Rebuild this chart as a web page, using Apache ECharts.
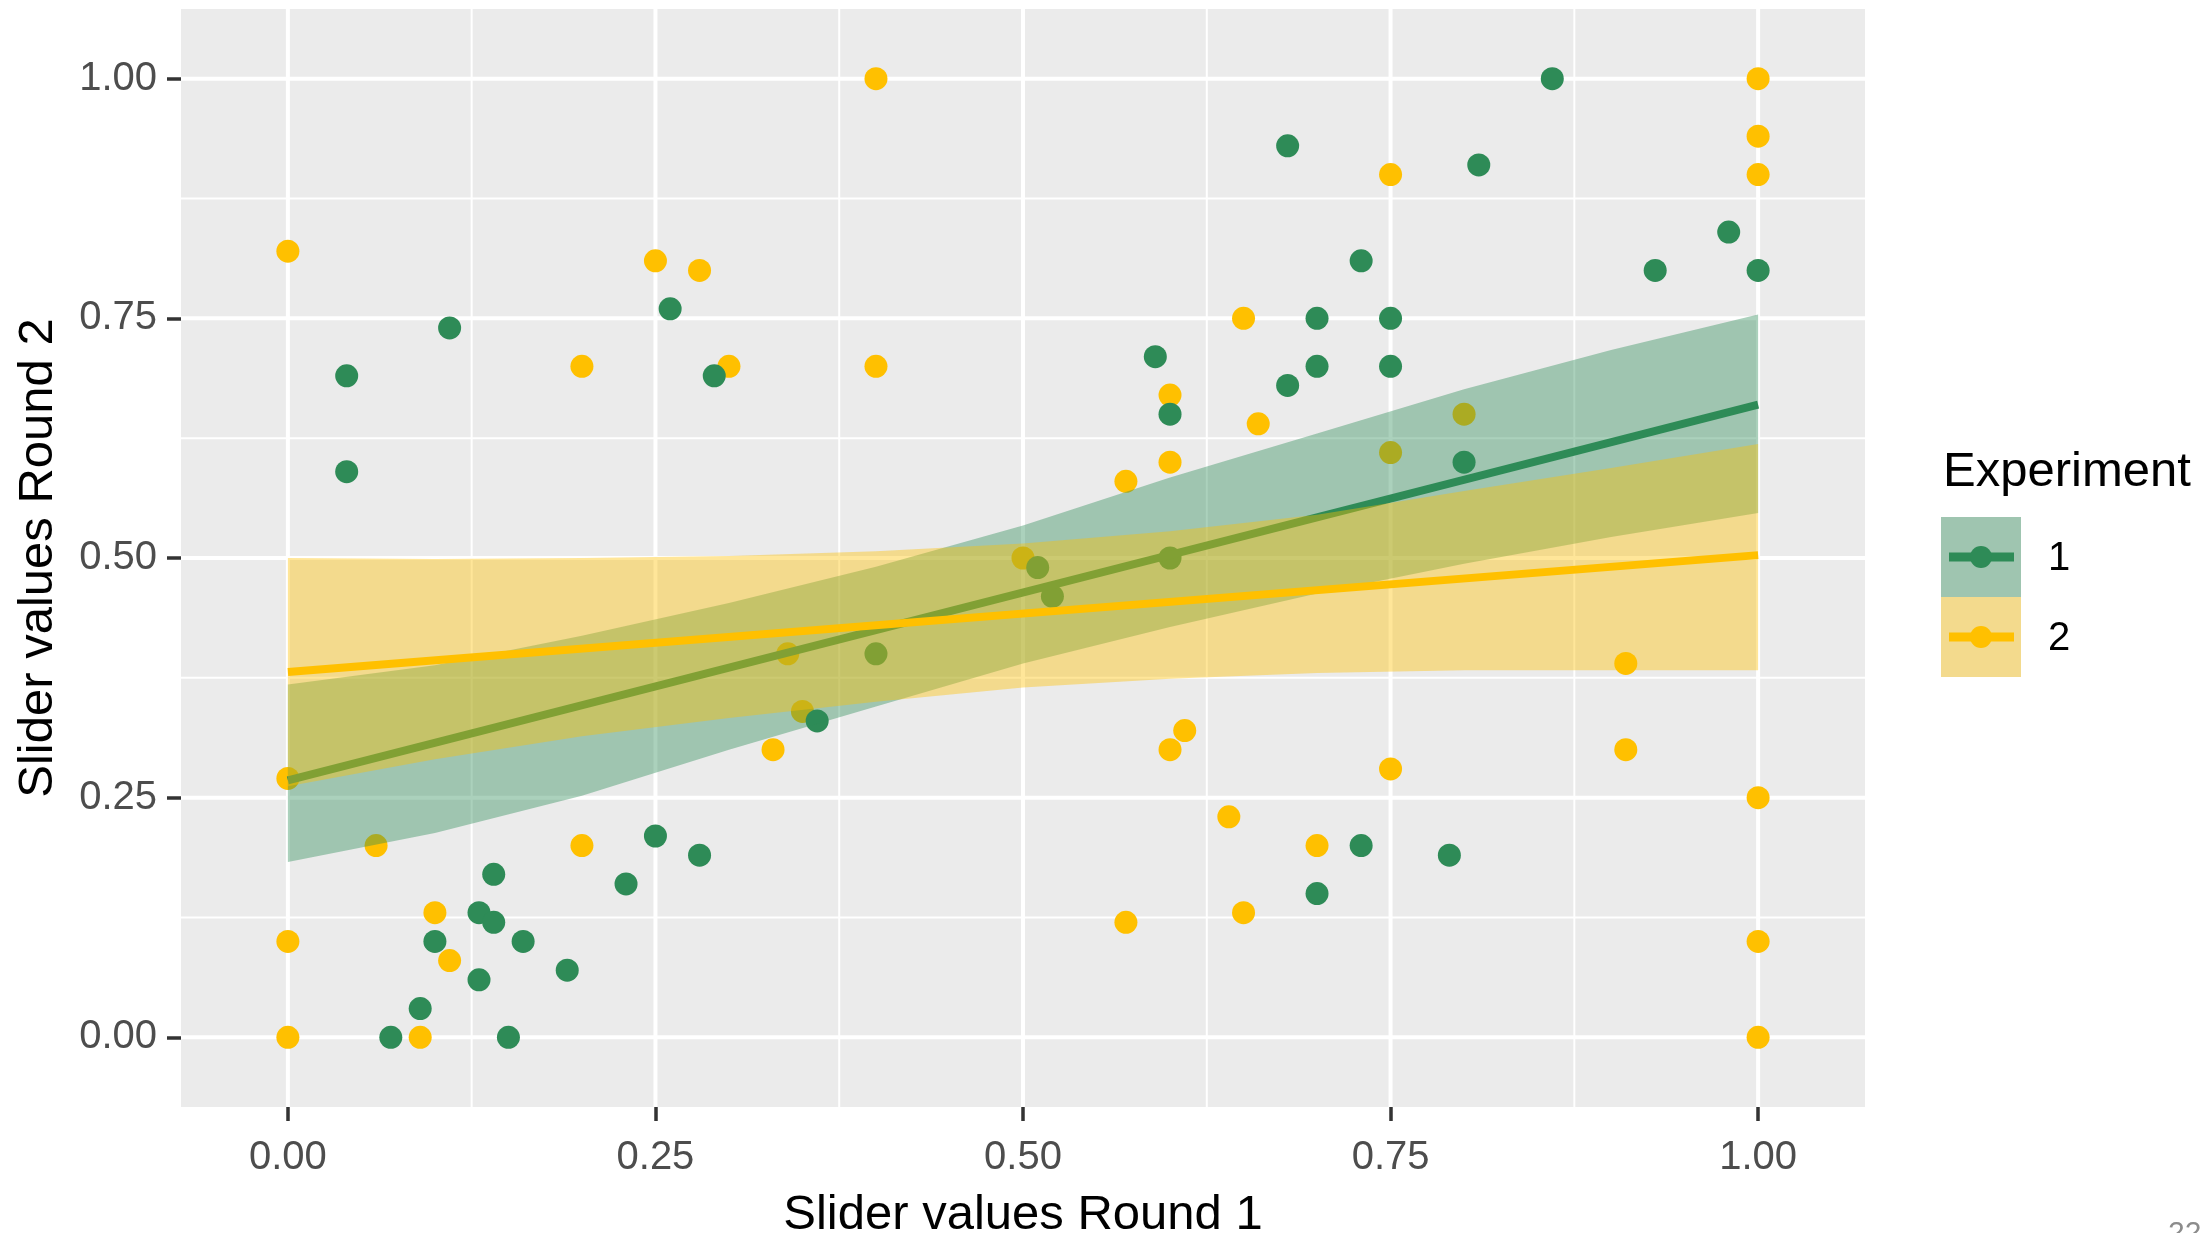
<!DOCTYPE html>
<html>
<head>
<meta charset="utf-8">
<title>Slider values Round 1 vs Round 2</title>
<script src="https://cdn.jsdelivr.net/npm/echarts@6/dist/echarts.min.js"></script>
<style>
  html, body { margin: 0; padding: 0; background: #ffffff; }
  #chart { width: 2205px; height: 1233px; }
</style>
</head>
<body>
<div id="chart"></div>
<script>
// Slider responses, Experiment 1: Round 1 value and Round 2 value
const exp1Round1 = [0.04, 0.04, 0.11, 0.26, 0.29, 0.86, 0.68, 0.81, 0.73, 0.98, 0.93, 1.00, 0.70, 0.75,
  0.59, 0.70, 0.75, 0.68, 0.60, 0.80, 0.60, 0.51, 0.52, 0.40, 0.36, 0.25, 0.28, 0.23, 0.14, 0.13,
  0.14, 0.10, 0.16, 0.19, 0.13, 0.09, 0.07, 0.15, 0.73, 0.70, 0.79];
const exp1Round2 = [0.69, 0.59, 0.74, 0.76, 0.69, 1.00, 0.93, 0.91, 0.81, 0.84, 0.80, 0.80, 0.75, 0.75,
  0.71, 0.70, 0.70, 0.68, 0.65, 0.60, 0.50, 0.49, 0.46, 0.40, 0.33, 0.21, 0.19, 0.16, 0.17, 0.13,
  0.12, 0.10, 0.10, 0.07, 0.06, 0.03, 0.00, 0.00, 0.20, 0.15, 0.19];

// Slider responses, Experiment 2
const exp2Round1 = [0.00, 0.40, 0.25, 0.28, 0.20, 0.30, 0.40, 1.00, 1.00, 1.00, 0.75, 0.65, 0.60, 0.66,
  0.60, 0.57, 0.80, 0.75, 0.50, 0.34, 0.35, 0.33, 0.00, 0.06, 0.20, 0.10, 0.11, 0.00, 0.00, 0.09,
  0.91, 0.91, 1.00, 1.00, 1.00, 0.75, 0.60, 0.61, 0.64, 0.70, 0.65, 0.57];
const exp2Round2 = [0.82, 1.00, 0.81, 0.80, 0.70, 0.70, 0.70, 1.00, 0.94, 0.90, 0.90, 0.75, 0.67, 0.64,
  0.60, 0.58, 0.65, 0.61, 0.50, 0.40, 0.34, 0.30, 0.27, 0.20, 0.20, 0.13, 0.08, 0.10, 0.00, 0.00,
  0.39, 0.30, 0.25, 0.10, 0.00, 0.28, 0.30, 0.32, 0.23, 0.20, 0.13, 0.12];

// Linear fits (end points) and their confidence bands sampled along Round 1
const fitX = [0, 1];
const exp1Fit = [0.268, 0.660];
const exp2Fit = [0.381, 0.503];
const bandX = [0, 0.1, 0.2, 0.3, 0.4, 0.5, 0.6, 0.7, 0.8, 0.9, 1.0];
const exp1Lower = [0.183, 0.213, 0.252, 0.300, 0.345, 0.390, 0.428, 0.463, 0.494, 0.522, 0.547];
const exp1Upper = [0.368, 0.388, 0.419, 0.453, 0.491, 0.534, 0.584, 0.630, 0.676, 0.717, 0.754];
const exp2Lower = [0.262, 0.290, 0.314, 0.333, 0.350, 0.365, 0.374, 0.380, 0.383, 0.383, 0.383];
const exp2Upper = [0.500, 0.499, 0.500, 0.502, 0.507, 0.515, 0.528, 0.545, 0.570, 0.594, 0.619];

// Axis ticks and labels
const majorTicks = [0, 0.25, 0.5, 0.75, 1];
const minorTicks = [0.125, 0.375, 0.625, 0.875];
const tickLabels = ['0.00', '0.25', '0.50', '0.75', '1.00'];
const axisRange = [-0.0727, 1.0727];
const xTitle = 'Slider values Round 1';
const yTitle = 'Slider values Round 2';
const legendTitle = 'Experiment';
const groupNames = ['1', '2'];
const pageNumber = '22';

const GREEN = '#2E8B57';
const YELLOW = '#FFC000';
const FONT = "'Liberation Sans', Arial, Helvetica, sans-serif";

const pairs = (xs, ys) => xs.map((x, i) => [x, ys[i]]);
const labelFor = v => {
  const i = majorTicks.findIndex(t => Math.abs(t - v) < 1e-6);
  return i >= 0 ? tickLabels[i] : '';
};

// White panel grid lines drawn inside the plotting area
function gridSeries(values, vertical, width) {
  return {
    type: 'custom', z: 1, silent: true, clip: true,
    data: values.map(v => [v, v]),
    renderItem: (params, api) => {
      const cs = params.coordSys;
      const v = api.value(0);
      if (vertical) {
        const x = api.coord([v, 0])[0];
        return { type: 'line', shape: { x1: x, y1: cs.y, x2: x, y2: cs.y + cs.height },
          style: { stroke: '#FFFFFF', lineWidth: width } };
      }
      const y = api.coord([0, v])[1];
      return { type: 'line', shape: { x1: cs.x, y1: y, x2: cs.x + cs.width, y2: y },
        style: { stroke: '#FFFFFF', lineWidth: width } };
    }
  };
}

// Confidence band as a filled polygon between lower and upper bounds
function bandSeries(xs, lower, upper, fill, z) {
  return {
    type: 'custom', z: z, silent: true, clip: true,
    data: [[xs[0], lower[0]]],
    renderItem: (params, api) => {
      const pts = [];
      for (let i = 0; i < xs.length; i++) pts.push(api.coord([xs[i], upper[i]]));
      for (let i = xs.length - 1; i >= 0; i--) pts.push(api.coord([xs[i], lower[i]]));
      return { type: 'polygon', shape: { points: pts }, style: { fill: fill } };
    }
  };
}

function fitSeries(ys, color, z) {
  return {
    type: 'line', z: z, silent: true, symbol: 'none', clip: true,
    data: pairs(fitX, ys),
    lineStyle: { color: color, width: 8, cap: 'butt' }
  };
}

function axisCommon() {
  return {
    type: 'value', min: axisRange[0], max: axisRange[1],
    axisLine: { show: false, onZero: false },
    splitLine: { show: false },
    minorSplitLine: { show: false },
    axisTick: { show: true, customValues: majorTicks, length: 14, lineStyle: { color: '#333333', width: 3.5 } },
    axisLabel: { customValues: majorTicks, formatter: labelFor, color: '#4D4D4D', fontSize: 40, fontFamily: FONT },
    nameLocation: 'middle',
    nameTextStyle: { color: '#000000', fontSize: 49, fontFamily: FONT }
  };
}

const xAxis = Object.assign(axisCommon(), { name: xTitle, nameGap: 84 });
xAxis.axisLabel.margin = 31;
const yAxis = Object.assign(axisCommon(), { name: yTitle, nameGap: 118 });
yAxis.axisLabel.margin = 24;

// Legend keys: band colour behind a line with a point
const keyX = 1941, keyY = 517, keySize = 80;
const legendGraphics = [
  { type: 'text', x: 1943, y: 472, style: { text: legendTitle, fill: '#000000', fontSize: 49, fontFamily: FONT, verticalAlign: 'middle' } }
];
[GREEN, YELLOW].forEach((c, i) => {
  const top = keyY + i * keySize;
  const cy = top + keySize / 2;
  legendGraphics.push(
    { type: 'rect', shape: { x: keyX, y: top, width: keySize, height: keySize }, style: { fill: '#EBEBEB' } },
    { type: 'rect', shape: { x: keyX, y: top, width: keySize, height: keySize }, style: { fill: c, opacity: 0.4 } },
    { type: 'line', shape: { x1: keyX + 8, y1: cy, x2: keyX + keySize - 7, y2: cy }, style: { stroke: c, lineWidth: 9 } },
    { type: 'circle', shape: { cx: keyX + keySize / 2, cy: cy, r: 11 }, style: { fill: c } },
    { type: 'text', x: 2048, y: cy + 2, style: { text: groupNames[i], fill: '#000000', fontSize: 40, fontFamily: FONT, verticalAlign: 'middle' } }
  );
});
legendGraphics.push({ type: 'text', x: 2168, y: 1219, style: { text: pageNumber, fill: '#8C8C8C', fontSize: 30, fontFamily: FONT, verticalAlign: 'top' } });

const chart = echarts.init(document.getElementById('chart'), null, { renderer: 'canvas' });
chart.setOption({
  animation: false,
  backgroundColor: '#FFFFFF',
  grid: {
    left: 181, top: 9, width: 1684, height: 1098,
    show: true, backgroundColor: '#EBEBEB', borderWidth: 0,
    containLabel: false, outerBoundsMode: 'none'
  },
  xAxis: xAxis,
  yAxis: yAxis,
  graphic: legendGraphics,
  series: [
    gridSeries(minorTicks, true, 2),
    gridSeries(minorTicks, false, 2),
    gridSeries(majorTicks, true, 4),
    gridSeries(majorTicks, false, 4),
    { type: 'scatter', name: groupNames[1], z: 2, silent: true, symbol: 'circle', symbolSize: 23,
      itemStyle: { color: YELLOW, opacity: 1 }, data: pairs(exp2Round1, exp2Round2) },
    { type: 'scatter', name: groupNames[0], z: 2, silent: true, symbol: 'circle', symbolSize: 23,
      itemStyle: { color: GREEN, opacity: 1 }, data: pairs(exp1Round1, exp1Round2) },
    bandSeries(bandX, exp1Lower, exp1Upper, 'rgba(46,139,87,0.4)', 3),
    fitSeries(exp1Fit, GREEN, 4),
    bandSeries(bandX, exp2Lower, exp2Upper, 'rgba(255,192,0,0.4)', 5),
    fitSeries(exp2Fit, YELLOW, 6)
  ]
});
</script>
</body>
</html>
